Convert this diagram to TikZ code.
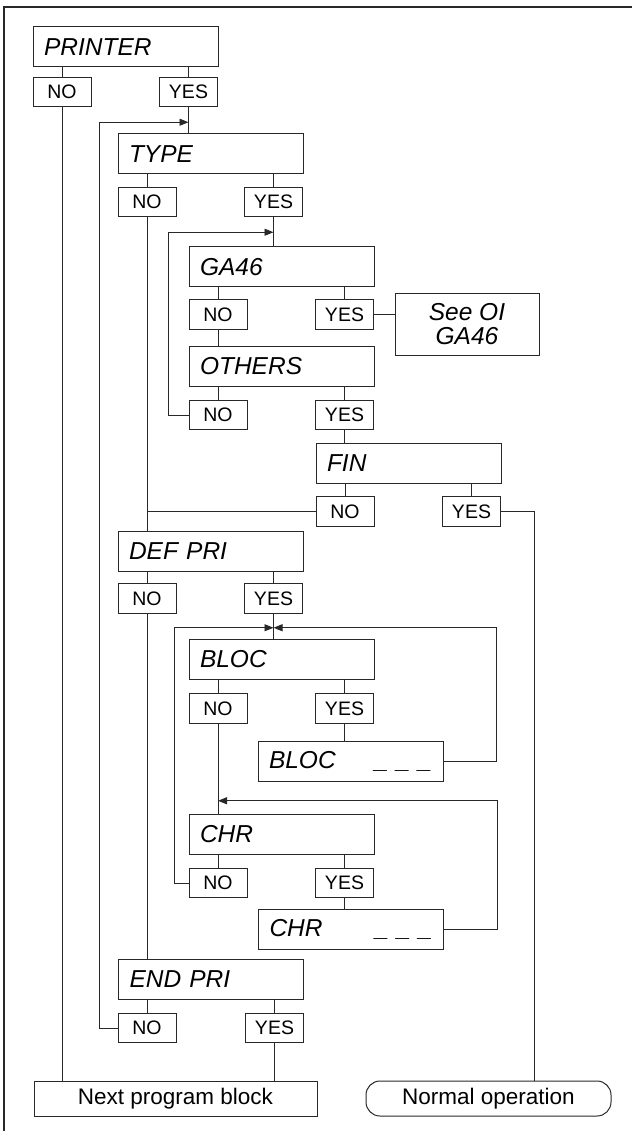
\documentclass[tikz,border=0pt]{standalone}
\usepackage{fontspec}
\setmainfont{Liberation Sans}
\usetikzlibrary{arrows.meta, positioning}
\definecolor{linegray}{RGB}{40, 40, 40}
\tikzset{
  >=Stealth,
  line/.style={line width=0.9pt, linegray},
  flowarrow/.style={-{Triangle[length=9pt, width=7pt]}, line width=0.9pt, linegray}
}

\begin{document}
\begin{tikzpicture}[
    x=1pt, y=-1pt,
    title/.style={rectangle, draw=linegray, line width=1pt, minimum width=185pt, minimum height=40pt, text width=163pt, inner xsep=11pt, align=left, font=\fontsize{24.5}{26}\selectfont\itshape},
    answer/.style={rectangle, draw=linegray, line width=1pt, minimum width=58pt, minimum height=29.5pt, inner sep=0pt, font=\fontsize{19.5}{21}\selectfont},
    note/.style={rectangle, draw=linegray, line width=1pt, minimum width=144pt, minimum height=61pt, align=center, font=\fontsize{24.5}{24}\selectfont\itshape},
    exitbox/.style={rectangle, draw=linegray, line width=1pt, minimum height=35pt, inner sep=0pt, font=\fontsize{22.5}{24}\selectfont}
]
    \useasboundingbox (0,0) rectangle (632,1131);
    % Frame
    \draw[linegray, line width=1.5pt] (4,1131) -- (4,7) -- (632,7);

    % Nodes
    \node[title] (printer) at (125.5,47) {PRINTER};
    \node[answer] (printerno) at (62,92) {NO};
    \node[answer] (printeryes) at (188.5,92) {YES};

    \node[title] (type) at (210.5,154) {TYPE};
    \node[answer] (typeno) at (147,202) {NO};
    \node[answer] (typeyes) at (273.5,202) {YES};

    \node[title] (ga) at (281.5,267) {GA46};
    \node[answer] (gano) at (218,314.5) {NO};
    \node[answer] (gayes) at (344.5,314.5) {YES};
    \node[note] (seeoi) at (467,324.5) {See OI\\GA46};

    \node[title] (others) at (281.5,366.5) {OTHERS};
    \node[answer] (othersno) at (218,415) {NO};
    \node[answer] (othersyes) at (344.5,415) {YES};

    \node[title] (fin) at (408.5,463.5) {FIN};
    \node[answer] (finno) at (345,511.5) {NO};
    \node[answer] (finyes) at (471.5,511.5) {YES};

    \node[title] (defpri) at (210.5,551) {DEF PRI};
    \node[answer] (defno) at (147,598.5) {NO};
    \node[answer] (defyes) at (273.5,598.5) {YES};

    \node[title] (bloc) at (281.5,659.5) {BLOC};
    \node[answer] (blocno) at (218,708.5) {NO};
    \node[answer] (blocyes) at (344.5,708.5) {YES};
    \node[title] (blocval) at (350.5,761) {BLOC\hfill\_ \_ \_};

    \node[title] (chr) at (281.5,834.5) {CHR};
    \node[answer] (chrno) at (218,883) {NO};
    \node[answer] (chryes) at (344.5,883) {YES};
    \node[title] (chrval) at (351,929.5) {CHR\hfill\_ \_ \_};

    \node[title] (endpri) at (211,979.5) {END PRI};
    \node[answer] (endno) at (147,1028) {NO};
    \node[answer] (endyes) at (274.5,1028) {YES};

    \node[exitbox, minimum width=283pt] (nextblock) at (175.5,1098.5) {Next program block};
    \node[exitbox, minimum width=245pt, rounded corners=14pt] (normal) at (488.5,1098.5) {Normal operation};

    % Junctions
    \coordinate[below=15pt of printeryes.south] (jtype);
    \coordinate[below=15pt of typeyes.south] (jga);
    \coordinate[below=14pt of defyes.south] (jbloc);
    \coordinate[below=77pt of blocno.south] (jchr);

    % Stems
    \draw[line] (printer.south -| printerno) -- (printerno);
    \draw[line] (printer.south -| printeryes) -- (printeryes);
    \draw[line] (type.south -| typeno) -- (typeno);
    \draw[line] (type.south -| typeyes) -- (typeyes);
    \draw[line] (ga.south -| gano) -- (gano);
    \draw[line] (ga.south -| gayes) -- (gayes);
    \draw[line] (others.south -| othersno) -- (othersno);
    \draw[line] (others.south -| othersyes) -- (othersyes);
    \draw[line] (fin.south -| finno) -- (finno);
    \draw[line] (fin.south -| finyes) -- (finyes);
    \draw[line] (defpri.south -| defno) -- (defno);
    \draw[line] (defpri.south -| defyes) -- (defyes);
    \draw[line] (bloc.south -| blocno) -- (blocno);
    \draw[line] (bloc.south -| blocyes) -- (blocyes);
    \draw[line] (chr.south -| chrno) -- (chrno);
    \draw[line] (chr.south -| chryes) -- (chryes);
    \draw[line] (endpri.south -| endno) -- (endno);
    \draw[line] (endpri.south -| endyes) -- (endyes);

    % Flow lines
    \draw[line] (printerno) -- (printerno |- nextblock.north);
    \draw[line] (printeryes) -- (printeryes |- type.north);
    \draw[line] (typeno) -- (typeno |- defpri.north);
    \draw[line] (typeyes) -- (typeyes |- ga.north);
    \draw[line] (gano) -- (gano |- others.north);
    \draw[line] (gayes) -- (gayes -| seeoi.west);
    \draw[line] (othersyes) -- (othersyes |- fin.north);
    \draw[line] (finno) -- (finno -| typeno);
    \draw[line] (finyes.east) -- ++(33.5,0) coordinate (fincorner) -- (fincorner |- normal.north);
    \draw[line] (defno) -- (defno |- endpri.north);
    \draw[line] (defyes) -- (defyes |- bloc.north);
    \draw[line] (blocno) -- (blocno |- chr.north);
    \draw[line] (blocyes) -- (blocyes |- blocval.north);
    \draw[line] (chryes) -- (chryes |- chrval.north);
    \draw[line] (endyes) -- (endyes |- nextblock.north);

    % Loops back
    \draw[flowarrow] (endno.west) -- ++(-18,0) |- (jtype);
    \draw[flowarrow] (othersno.west) -- ++(-20,0) |- (jga);
    \draw[flowarrow] (chrno.west) -- ++(-14,0) |- (jbloc);
    \draw[flowarrow] (blocval.east) -- ++(53,0) |- (jbloc);
    \draw[flowarrow] (chrval.east) -- ++(53,0) |- (jchr);
\end{tikzpicture}
\end{document}
